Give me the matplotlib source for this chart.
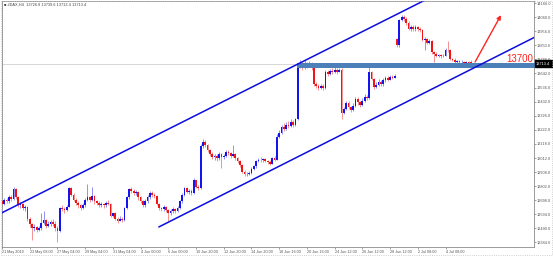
import matplotlib
matplotlib.use('Agg')
import matplotlib.pyplot as plt
import matplotlib.transforms as mtransforms
from matplotlib.patches import Rectangle

# H4 candles
opens = [12690, 12670, 12700, 12690, 12720, 12705, 12780, 12720, 12660, 12670,
         12640, 12650, 12560, 12520, 12490, 12500, 12480, 12490, 12530, 12550,
         12510, 12520, 12535, 12520, 12490, 12470, 12640, 12630, 12625, 12650,
         12790, 12740, 12700, 12680, 12660, 12640, 12660, 12700, 12720, 12700,
         12730, 12690, 12680, 12660, 12670, 12660, 12680, 12670, 12580, 12600,
         12560, 12545, 12560, 12550, 12640, 12720, 12780, 12770, 12750, 12760,
         12720, 12690, 12660, 12690, 12720, 12755, 12740, 12730, 12670, 12640,
         12630, 12645, 12625, 12600, 12615, 12630, 12620, 12640, 12690, 12740,
         12790, 12760, 12770, 12750, 12845, 12800, 12790, 13100, 13130, 13110,
         13070, 13040, 13020, 13030, 13010, 13040, 13020, 13030, 13060, 13050,
         13030, 13040, 13010, 12990, 12960, 12910, 12890, 12895, 12900, 12930,
         12950, 12990, 13000, 12995, 13005, 12990, 12985, 12970, 13010, 13000,
         13170, 13200, 13240, 13230, 13260, 13250, 13280, 13260, 13300, 13700,
         13720, 13690, 13715, 13700, 13720, 13680, 13560, 13545, 13535, 13550,
         13530, 13650, 13640, 13660, 13650, 13665, 13655, 13670, 13350, 13380,
         13420, 13390, 13370, 13400, 13450, 13430, 13410, 13440, 13470, 13460,
         13650, 13600, 13540, 13555, 13580, 13560, 13590, 13605, 13595, 13615,
         13610, 13895, 13850, 14040, 14060, 14050, 14020, 13975, 13990, 13970,
         13985, 13975, 13965, 13890, 13900, 13870, 13880, 13800, 13790, 13775,
         13780, 13770, 13775, 13820, 13815, 13750, 13745, 13730, 13735, 13725,
         13730, 13722, 13727, 13726.8]
highs = [12700, 12712, 12718, 12735, 12740, 12795, 12790, 12730, 12685, 12680,
         12665, 12655, 12575, 12530, 12520, 12510, 12505, 12600, 12620, 12560,
         12540, 12550, 12560, 12540, 12505, 12650, 12660, 12645, 12665, 12800,
         12795, 12750, 12715, 12690, 12670, 12680, 12715, 12820, 12730, 12800,
         12740, 12700, 12690, 12685, 12680, 12695, 12700, 12680, 12605, 12610,
         12575, 12580, 12570, 12650, 12730, 12790, 12800, 12785, 12775, 12765,
         12730, 12700, 12705, 12735, 12765, 12770, 12750, 12740, 12680, 12650,
         12660, 12655, 12635, 12630, 12645, 12640, 12655, 12700, 12755, 12800,
         12800, 12785, 12780, 12860, 12850, 12815, 13120, 13155, 13145, 13120,
         13080, 13055, 13045, 13040, 13060, 13050, 13045, 13075, 13075, 13060,
         13110, 13050, 13020, 13000, 12970, 12920, 12910, 12915, 12945, 12960,
         13000, 13015, 13020, 13015, 13015, 13000, 12995, 13020, 13025, 13190,
         13220, 13260, 13270, 13280, 13285, 13300, 13295, 13310, 13715, 13740,
         13735, 13740, 13730, 13735, 13730, 13690, 13575, 13560, 13565, 13560,
         13665, 13670, 13675, 13680, 13690, 13680, 13685, 13680, 13395, 13440,
         13435, 13400, 13420, 13470, 13465, 13440, 13460, 13490, 13480, 13690,
         13660, 13610, 13575, 13600, 13590, 13605, 13620, 13620, 13630, 13630,
         13640, 13905, 14050, 14075, 14080, 14060, 14030, 14000, 14005, 14000,
         13995, 13990, 13975, 13915, 13905, 13895, 13890, 13810, 13800, 13790,
         13785, 13790, 13830, 13880, 13825, 13760, 13755, 13745, 13740, 13740,
         13735, 13738, 13735, 13739.6]
lows = [12655, 12660, 12675, 12680, 12695, 12700, 12710, 12645, 12640, 12625,
        12620, 12545, 12500, 12400, 12470, 12465, 12470, 12480, 12520, 12495,
        12500, 12505, 12510, 12470, 12390, 12465, 12615, 12605, 12615, 12645,
        12730, 12690, 12665, 12640, 12625, 12630, 12650, 12690, 12685, 12690,
        12670, 12660, 12645, 12650, 12640, 12650, 12660, 12570, 12575, 12550,
        12530, 12540, 12535, 12545, 12630, 12710, 12755, 12735, 12740, 12700,
        12675, 12650, 12650, 12680, 12710, 12725, 12715, 12660, 12625, 12615,
        12620, 12610, 12540, 12590, 12600, 12605, 12610, 12635, 12680, 12730,
        12750, 12745, 12740, 12745, 12790, 12775, 12785, 13090, 13095, 13060,
        13030, 13005, 13000, 12990, 13000, 12940, 13005, 13020, 13035, 13015,
        13020, 12995, 12975, 12945, 12900, 12875, 12880, 12885, 12895, 12920,
        12940, 12980, 12985, 12985, 12980, 12970, 12960, 12965, 12990, 12995,
        13160, 13190, 13215, 13220, 13235, 13240, 13245, 13250, 13295, 13680,
        13670, 13675, 13680, 13690, 13665, 13545, 13530, 13520, 13525, 13515,
        13525, 13625, 13630, 13640, 13645, 13640, 13650, 13300, 13340, 13370,
        13375, 13355, 13360, 13395, 13410, 13395, 13400, 13430, 13445, 13455,
        13590, 13525, 13530, 13545, 13545, 13550, 13580, 13585, 13590, 13600,
        13605, 13835, 13840, 14030, 14035, 14005, 13965, 13960, 13955, 13960,
        13955, 13950, 13880, 13820, 13860, 13860, 13790, 13725, 13765, 13765,
        13760, 13762, 13770, 13800, 13740, 13735, 13715, 13705, 13710, 13715,
        13712, 13715, 13710, 13713.4]
closes = [12670, 12700, 12690, 12720, 12705, 12780, 12720, 12660, 12670, 12640,
          12650, 12560, 12520, 12490, 12500, 12480, 12490, 12530, 12550, 12510,
          12520, 12535, 12520, 12490, 12470, 12640, 12630, 12625, 12650, 12790,
          12740, 12700, 12680, 12660, 12640, 12660, 12700, 12720, 12700, 12730,
          12690, 12680, 12660, 12670, 12660, 12680, 12670, 12580, 12600, 12560,
          12545, 12560, 12550, 12640, 12720, 12780, 12770, 12750, 12760, 12720,
          12690, 12660, 12690, 12720, 12755, 12740, 12730, 12670, 12640, 12630,
          12645, 12625, 12600, 12615, 12630, 12620, 12640, 12690, 12740, 12790,
          12760, 12770, 12750, 12845, 12800, 12790, 13100, 13130, 13110, 13070,
          13040, 13020, 13030, 13010, 13040, 13020, 13030, 13060, 13050, 13030,
          13040, 13010, 12990, 12960, 12910, 12890, 12895, 12900, 12930, 12950,
          12990, 13000, 12995, 13005, 12990, 12985, 12970, 13010, 13000, 13170,
          13200, 13240, 13230, 13260, 13250, 13280, 13260, 13300, 13700, 13720,
          13690, 13715, 13700, 13720, 13680, 13560, 13545, 13535, 13550, 13530,
          13650, 13640, 13660, 13650, 13665, 13655, 13670, 13350, 13380, 13420,
          13390, 13370, 13400, 13450, 13430, 13410, 13440, 13470, 13460, 13650,
          13600, 13540, 13555, 13580, 13560, 13590, 13605, 13595, 13615, 13610,
          13625, 13850, 14040, 14060, 14050, 14020, 13975, 13990, 13970, 13985,
          13975, 13965, 13890, 13900, 13870, 13880, 13800, 13790, 13775, 13780,
          13770, 13775, 13820, 13815, 13750, 13745, 13730, 13735, 13725, 13730,
          13722, 13727, 13720, 13713.4]

price_ticks = [14166.0, 14060.0, 13956.0, 13850.0, 13746.0, 13642.0, 13536.0,
               13432.0, 13326.0, 13222.0, 13118.0, 13012.0, 12908.0, 12802.0,
               12698.0, 12594.0, 12490.0, 12384.0]
date_labels = ["21 May 2019", "23 May 08:00", "27 May 04:00", "29 May 04:00",
               "31 May 04:00", "4 Jun 00:00", "6 Jun 00:00", "10 Jun 20:00",
               "12 Jun 20:00", "14 Jun 20:00", "18 Jun 16:00", "20 Jun 16:00",
               "24 Jun 12:00", "26 Jun 12:00", "28 Jun 12:00", "2 Jul 08:00",
               "4 Jul 08:00"]
bars_per_label = 12

# drawn objects (bar index, price)
upper_channel = [(0, 12605), (190, 14247)]
lower_channel = [(68, 12500), (231, 13915)]
zone_start = 127.5
zone_low, zone_high = 13683, 13722
level_text = "13700"
arrow_from = (204.8, 13727)
arrow_to = (216.0, 14076)
header = "#DAX,H4  13726.8 13739.6 13713.4 13713.4"

BLUE = '#1414f0'
RED = '#f01414'
SMALL = 'Liberation Sans'

fig = plt.figure(figsize=(5.53, 2.56), dpi=100)
fig.patch.set_facecolor('white')
ax = fig.add_axes([2 / 553, 9 / 256, 532 / 553, 246 / 256])
ax.set_xlim(0, 230.3)
ax.set_ylim(12350, 14181)

# candles
for i in range(len(closes)):
    up = closes[i] >= opens[i]
    body_c = BLUE if up else RED
    wick_c = '#8080f4' if up else '#f48080'
    ax.vlines(i, lows[i], highs[i], color=wick_c, lw=0.6, zorder=2)
    lo = min(opens[i], closes[i])
    h = max(abs(closes[i] - opens[i]), 5)
    ax.bar(i, h, bottom=lo, width=0.75, color=body_c, lw=0, zorder=3)

# bid line
ax.axhline(closes[-1], color='#c8c8c8', lw=0.5, zorder=1)

# support zone
ax.fill_between([zone_start, 231], zone_low, zone_high, color='#4b80b9',
                lw=0, zorder=4)

# channel
ax.plot(*zip(*upper_channel), color='#0c0ce0', lw=1.1, zorder=5)
ax.plot(*zip(*lower_channel), color='#0c0ce0', lw=1.1, zorder=5)

# projection arrow
ax.annotate('', xy=arrow_to, xytext=arrow_from,
            arrowprops=dict(arrowstyle='-|>', color='#ff2424', lw=1.0,
                            mutation_scale=6, shrinkA=0, shrinkB=0), zorder=6)
ax.text(218.3, 13752, level_text, color='#ff2020', fontsize=7,
        family=SMALL, ha='left', va='center', zorder=6)

# axes styling
for side in ['left', 'top', 'bottom', 'right']:
    ax.spines[side].set_color('#8c8c8c')
    ax.spines[side].set_linewidth(0.6)

ax.yaxis.tick_right()
ax.set_yticks(price_ticks)
ax.set_yticklabels(['%.1f' % p for p in price_ticks], family=SMALL)
ax.tick_params(axis='y', labelsize=2.8, colors='#555555', length=1.3,
               width=0.4, pad=0.8)

xt = [bars_per_label * k for k in range(len(date_labels))]
ax.set_xticks(xt)
ax.set_xticklabels(date_labels, family=SMALL)
ax.tick_params(axis='x', labelsize=2.7, colors='#555555', length=1.3,
               width=0.4, pad=0.8)
for lbl in ax.get_xticklabels():
    lbl.set_ha('left')

# current price box on the scale
trans = mtransforms.blended_transform_factory(ax.transAxes, ax.transData)
ax.text(1.004, closes[-1], '%.1f' % closes[-1], transform=trans,
        fontsize=2.8, family=SMALL, color='white', ha='left', va='center',
        bbox=dict(boxstyle='square,pad=0.35', fc='black', ec='black'),
        clip_on=False, zorder=7)

ax.text(0.003, 0.992, '\u25a0 ' + header, transform=ax.transAxes,
        fontsize=2.8, family=['Liberation Sans', 'DejaVu Sans'],
        color='#444444', ha='left', va='top')

fig.add_artist(Rectangle((0.001, 0.004), 0.997, 0.994, transform=fig.transFigure,
                         fill=False, ls=':', ec='#c0c0c0', lw=0.6))

fig.savefig('out.png', dpi=100)
